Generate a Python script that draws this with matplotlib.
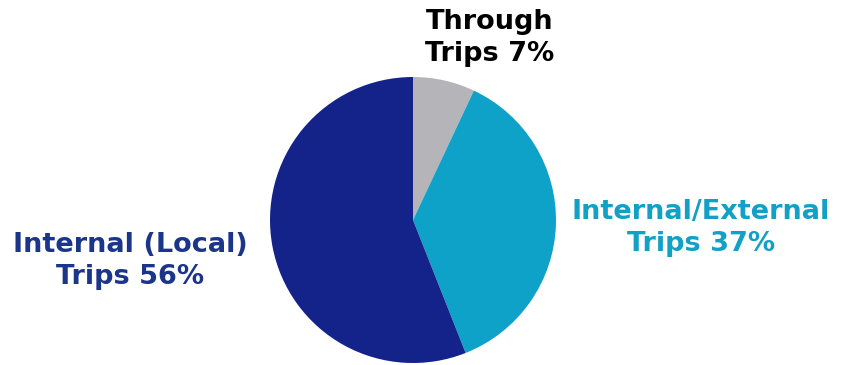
import matplotlib.pyplot as plt

# Trip shares by type
categories = ["Through\nTrips", "Internal/External\nTrips", "Internal (Local)\nTrips"]
shares = [7, 37, 56]
colors = ["#b5b5b9", "#0ea2c8", "#13238a"]
text_colors = ["#000000", "#12a0c6", "#1b358b"]

fig = plt.figure(figsize=(8.47, 3.65), dpi=100)
ax = fig.add_axes([0, 0, 1, 1])

ax.pie(shares, colors=colors, startangle=90, counterclock=False,
       center=(413, 145), radius=143, frame=True,
       wedgeprops=dict(linewidth=0))
ax.set_xlim(0, 847)
ax.set_ylim(0, 365)
ax.set_aspect("equal")
ax.axis("off")

# label positions in pixel space (x, y from bottom)
label_pos = [(490, 327), (701, 137), (130, 104)]
for name, val, col, (x, y) in zip(categories, shares, text_colors, label_pos):
    ax.text(x, y, f"{name} {val}%", ha="center", va="center", color=col,
            fontsize=19.5, fontweight="bold", linespacing=1.3)

fig.savefig("out.png", dpi=100)
